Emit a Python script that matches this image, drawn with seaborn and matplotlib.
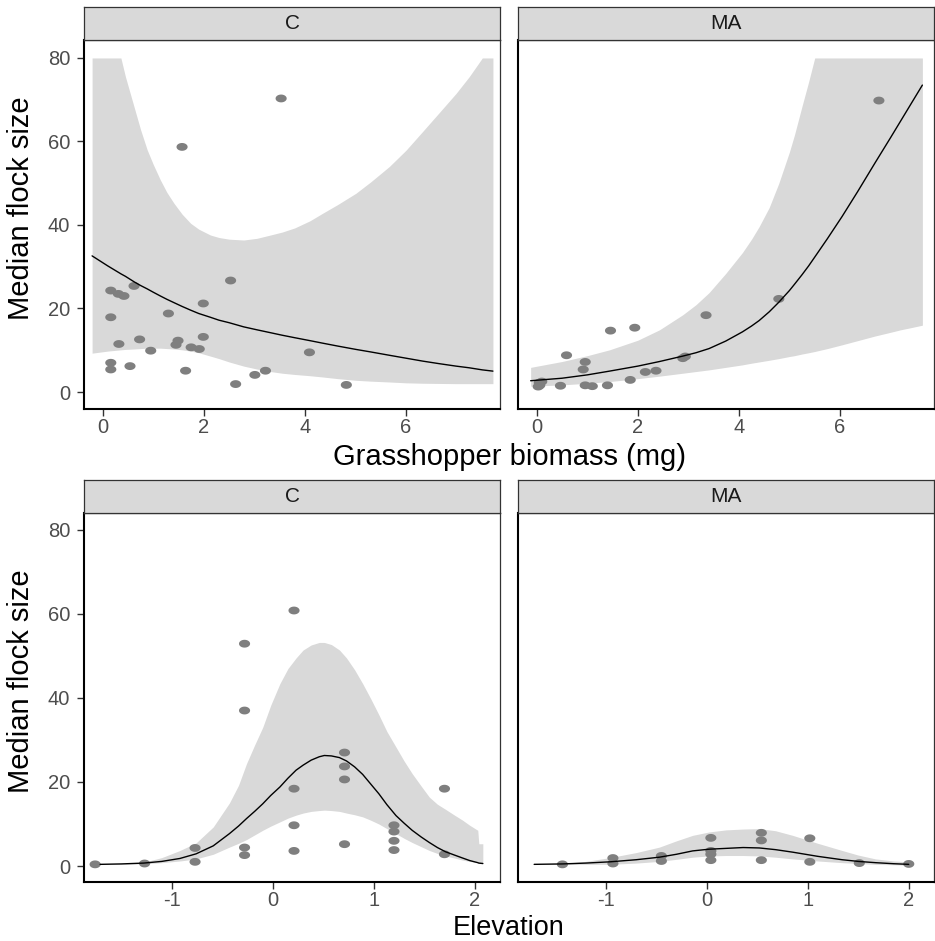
import numpy as np
import matplotlib
matplotlib.use("Agg")
import matplotlib.pyplot as plt
from matplotlib.path import Path
import seaborn as sns

# ---- values ----
# top row: median flock size vs grasshopper biomass (mg)
bio_c_x = [3.53, 1.57, 2.53, 0.62, 0.16, 0.31, 0.42, 1.99, 1.30, 0.16, 1.99, 0.73, 0.32, 1.49,
           1.45, 0.95, 1.75, 1.91, 0.16, 0.16, 0.54, 1.64, 2.63, 3.01, 3.22, 4.09, 4.82]
bio_c_y = [70.3, 58.7, 26.7, 25.4, 24.3, 23.5, 23.0, 21.2, 18.8, 17.9, 13.2, 12.6, 11.5, 12.3,
           11.3, 9.9, 10.7, 10.3, 7.0, 5.4, 6.2, 5.1, 1.9, 4.1, 5.1, 9.5, 1.7]
bio_ma_x = [6.77, 4.79, 3.35, 1.46, 1.94, 0.59, 0.96, 0.92, 2.89, 2.94, 2.15, 2.36, 1.85, 0.05,
            0.10, 0.03, 0.06, 0.47, 0.96, 1.10, 1.40]
bio_ma_y = [69.8, 22.3, 18.4, 14.7, 15.4, 8.8, 7.2, 5.4, 8.1, 8.5, 4.8, 5.1, 2.9, 2.2,
            2.5, 1.3, 1.6, 1.5, 1.6, 1.4, 1.6]

# fitted curves and intervals (upper bound clipped at 80)
fit_bio_c_x = [-0.21, 0.1, 0.36, 0.45, 0.62, 0.75, 0.88, 1.0, 1.14, 1.27, 1.41, 1.57, 1.74, 1.9,
               2.13, 2.3, 2.5, 2.79, 3.05, 3.32, 3.55, 3.8, 4.1, 4.35, 4.65, 5.01, 5.3, 5.67,
               6.0, 6.33, 6.65, 6.99, 7.25, 7.51, 7.72]
fit_bio_c = [32.6, 30.2, 28.3, 27.7, 26.4, 25.5, 24.7, 23.9, 23.0, 22.2, 21.4, 20.5, 19.6, 18.8,
             17.9, 17.2, 16.6, 15.6, 14.9, 14.2, 13.6, 13.0, 12.3, 11.7, 11.0, 10.2, 9.6, 8.8,
             8.1, 7.4, 6.8, 6.2, 5.8, 5.3, 5.0]
upr_bio_c = [80, 80, 80, 75.5, 68.3, 62.8, 58.0, 54.5, 50.8, 47.8, 45.2, 42.6, 40.4, 39.0,
             37.6, 37.0, 36.6, 36.4, 36.8, 37.6, 38.3, 39.3, 41.0, 42.8, 44.9, 47.6, 50.3, 54.0,
             57.9, 62.4, 66.8, 71.5, 75.5, 80, 80]
lwr_bio_c = [9.3, 9.8, 10.1, 10.2, 10.3, 10.4, 10.5, 10.5, 10.5, 10.4, 10.3, 10.1, 9.8, 9.4,
             8.6, 8.0, 7.2, 6.2, 5.5, 4.9, 4.5, 4.2, 3.9, 3.6, 3.2, 2.8, 2.6, 2.4,
             2.2, 2.1, 2.05, 2.0, 2.0, 2.0, 2.0]

fit_bio_ma_x = [-0.12, 0.5, 1.0, 1.44, 2.0, 2.43, 2.89, 3.15, 3.41, 3.74, 4.07, 4.25, 4.40, 4.6,
                4.79, 5.0, 5.1, 5.25, 5.38, 5.50, 5.75, 6.04, 6.35, 6.69, 7.0, 7.2, 7.4, 7.63]
fit_bio_ma = [2.7, 3.3, 4.1, 5.0, 6.2, 7.3, 8.6, 9.4, 10.4, 12.2, 14.4, 15.8, 17.1, 19.2,
              21.5, 24.3, 25.8, 28.1, 30.2, 32.3, 36.7, 42.0, 48.0, 54.8, 60.9, 64.9, 68.9, 73.5]
upr_bio_ma = [5.9, 7.3, 8.7, 10.1, 12.4, 14.9, 18.5, 20.9, 23.8, 28.4, 33.4, 36.6, 39.6, 44.2,
              50.0, 57.5, 61.6, 68.5, 74.3, 80, 80, 80, 80, 80, 80, 80, 80, 80]
lwr_bio_ma = [1.4, 1.7, 2.1, 2.5, 3.2, 3.8, 4.5, 4.9, 5.3, 5.9, 6.5, 6.9, 7.2, 7.6,
              8.0, 8.5, 8.7, 9.1, 9.4, 9.7, 10.4, 11.3, 12.3, 13.4, 14.3, 14.9, 15.4, 16.0]

# bottom row: median flock size vs elevation
elev_c_x = [0.21, -0.28, -0.28, 0.71, 0.71, 0.71, 0.21, 1.70, 0.21, 1.20, 1.20, 1.20, 1.20,
            0.71, 0.21, -0.28, -0.28, -0.77, -0.77, -1.27, -1.76, 1.70]
elev_c_y = [60.8, 52.9, 37.0, 27.0, 23.7, 20.6, 18.4, 18.4, 9.7, 9.7, 8.2, 6.0, 3.8,
            5.2, 3.6, 4.4, 2.6, 4.3, 1.0, 0.6, 0.4, 2.8]
elev_ma_x = [-1.43, -0.93, -0.93, -0.45, -0.45, 0.04, 0.04, 0.04, 0.04, 0.54, 0.54, 0.54,
             1.02, 1.02, 1.51, 2.00]
elev_ma_y = [0.4, 1.9, 0.6, 2.4, 1.2, 6.7, 3.6, 2.8, 1.4, 7.9, 6.1, 1.4, 6.6, 1.0, 0.7, 0.5]

fit_elev_c_x = [-1.71, -1.5, -1.28, -1.1, -0.92, -0.76, -0.59, -0.43, -0.34, -0.26, -0.18, -0.10,
                -0.02, 0.07, 0.15, 0.23, 0.30, 0.38, 0.46, 0.51, 0.58, 0.66, 0.73, 0.81, 0.89,
                0.97, 1.05, 1.13, 1.22, 1.30, 1.38, 1.47, 1.55, 1.63, 1.71, 1.80, 1.88, 1.95,
                2.03, 2.04, 2.08]
fit_elev_c = [0.4, 0.5, 0.7, 1.1, 1.8, 2.9, 4.8, 7.7, 9.5, 11.3, 13.0, 14.8,
              16.8, 18.8, 20.9, 22.8, 24.0, 25.2, 26.0, 26.3, 26.2, 25.8, 25.0, 23.6, 21.8,
              19.5, 17.2, 14.6, 12.0, 10.2, 8.5, 6.9, 5.6, 4.4, 3.4, 2.6, 1.9, 1.3,
              0.8, 0.7, 0.6]
upr_elev_c = [0.4, 0.6, 0.9, 2.0, 3.7, 5.5, 9.3, 15.0, 19.2, 24.4, 28.8, 33.0,
              38.3, 43.4, 47.0, 49.5, 51.4, 52.6, 53.2, 53.2, 52.7, 51.4, 49.5, 46.7, 43.4,
              39.8, 36.0, 32.0, 28.3, 25.0, 22.0, 19.0, 16.4, 14.7, 13.5, 12.1, 10.9, 9.7,
              8.5, 5.3, 5.3]
lwr_elev_c = [0.4, 0.45, 0.5, 0.8, 1.2, 1.7, 2.8, 4.5, 5.4, 6.3, 7.4, 8.5,
              9.5, 10.5, 11.4, 12.1, 12.6, 13.0, 13.2, 13.3, 13.2, 13.0, 12.6, 12.2, 11.7,
              10.9, 10.0, 8.9, 7.7, 6.6, 5.6, 4.6, 3.7, 3.0, 2.4, 1.9, 1.4, 1.1,
              0.8, 0.7, 0.5]

fit_elev_ma_x = [-1.71, -1.43, -1.2, -0.96, -0.7, -0.47, -0.3, -0.14, 0.02, 0.19, 0.36, 0.52,
                 0.68, 0.85, 1.1, 1.34, 1.5, 1.67, 1.85, 2.00]
fit_elev_ma = [0.4, 0.5, 0.7, 1.0, 1.5, 2.1, 2.8, 3.6, 4.0, 4.2, 4.4, 4.3,
               3.9, 3.3, 2.3, 1.5, 1.1, 0.8, 0.55, 0.4]
upr_elev_ma = [0.4, 0.6, 1.1, 2.0, 3.2, 4.5, 6.0, 7.3, 8.1, 8.6, 8.8, 8.9,
               8.4, 7.3, 5.4, 3.7, 2.6, 1.7, 1.2, 1.0]
lwr_elev_ma = [0.4, 0.4, 0.4, 0.4, 0.7, 1.1, 1.6, 2.1, 2.4, 2.5, 2.5, 2.4,
               2.1, 1.7, 1.2, 0.8, 0.6, 0.4, 0.3, 0.2]

sns.set_theme(style="ticks")
plt.rcParams['font.family'] = ['Liberation Sans', 'DejaVu Sans']

W, H = 935, 941
fig = plt.figure(figsize=(W / 100, H / 100), dpi=100)

# ellipse-shaped points like the reference
t = np.linspace(0, 2 * np.pi, 50)
dot = Path(np.column_stack([1.42 * np.cos(t), np.sin(t)]))

panels = [
    # (left px, top px, strip title, points, curve, xlim, xticks, ylim, show y)
    (84, 40, 'C', (bio_c_x, bio_c_y), (fit_bio_c_x, fit_bio_c, lwr_bio_c, upr_bio_c),
     (-0.37, 7.86), [0, 2, 4, 6], (-4.07, 84.3), True),
    (518, 40, 'MA', (bio_ma_x, bio_ma_y), (fit_bio_ma_x, fit_bio_ma, lwr_bio_ma, upr_bio_ma),
     (-0.37, 7.86), [0, 2, 4, 6], (-4.07, 84.3), False),
    (84, 513, 'C', (elev_c_x, elev_c_y), (fit_elev_c_x, fit_elev_c, lwr_elev_c, upr_elev_c),
     (-1.87, 2.25), [-1, 0, 1, 2], (-3.8, 84.0), True),
    (518, 513, 'MA', (elev_ma_x, elev_ma_y), (fit_elev_ma_x, fit_elev_ma, lwr_elev_ma, upr_elev_ma),
     (-1.87, 2.25), [-1, 0, 1, 2], (-3.8, 84.0), False),
]

pw, ph, sh = 416, 369, 33
for left, top, title, (px, py), (cx, cf, cl, cu), xlim, xt, ylim, showy in panels:
    ax = fig.add_axes([left / W, 1 - (top + ph) / H, pw / W, ph / H])
    ax.fill_between(cx, cl, cu, color='#D9D9D9', lw=0, zorder=1)
    sns.scatterplot(x=px, y=py, ax=ax, color='#7F7F7F', marker=dot, s=64,
                    edgecolor='none', linewidth=0, zorder=3)
    sns.lineplot(x=cx, y=cf, ax=ax, color='black', linewidth=1.0, zorder=4)
    ax.set_xlim(*xlim)
    ax.set_ylim(*ylim)
    ax.set_xticks(xt)
    ax.set_xticklabels([str(v) for v in xt])
    ax.set_yticks([0, 20, 40, 60, 80])
    ax.tick_params(axis='both', length=5, width=1.0, color='#333333',
                   labelsize=14.5, labelcolor='#4D4D4D', pad=1.5)
    ax.tick_params(axis='y', pad=5)
    if not showy:
        ax.tick_params(axis='y', left=False, labelleft=False)
    for side in ['left', 'bottom']:
        ax.spines[side].set_linewidth(1.5)
        ax.spines[side].set_color('black')
    for side in ['top', 'right']:
        ax.spines[side].set_linewidth(0.9)
        ax.spines[side].set_color('#333333')
    ax.set_xlabel('')
    ax.set_ylabel('')
    ax.grid(False)

    # facet strip
    sx = fig.add_axes([left / W, 1 - top / H, pw / W, sh / H])
    sx.set_facecolor('#D9D9D9')
    sx.set_xticks([])
    sx.set_yticks([])
    for s in sx.spines.values():
        s.set_color('#333333')
        s.set_linewidth(0.9)
    sx.text(0.5, 0.5, title, ha='center', va='center', fontsize=15,
            color='#1A1A1A', transform=sx.transAxes)

# axis titles
fig.text(509 / W, 1 - 465 / H, 'Grasshopper biomass (mg)', ha='center', va='baseline',
         fontsize=21, color='black')
fig.text(509 / W, 1 - 935 / H, 'Elevation', ha='center', va='baseline',
         fontsize=19.5, color='black')
fig.text(21 / W, 1 - 208 / H, 'Median flock size', ha='center', va='center',
         rotation=90, fontsize=21, color='black')
fig.text(21 / W, 1 - 681 / H, 'Median flock size', ha='center', va='center',
         rotation=90, fontsize=21, color='black')

fig.savefig('out.png', dpi=100, facecolor='white')
